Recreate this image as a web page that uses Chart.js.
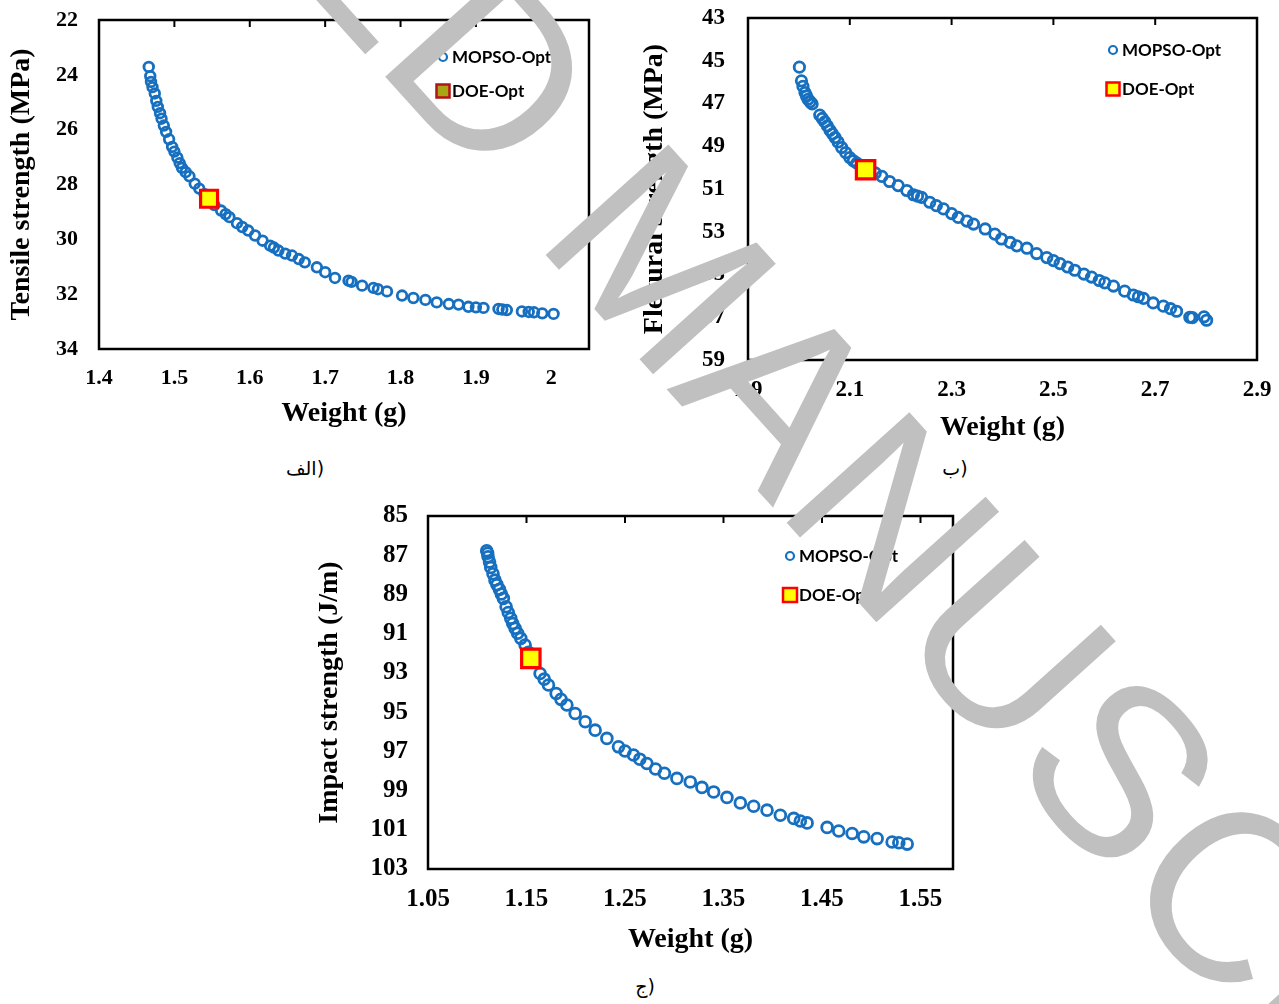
<!DOCTYPE html>
<html>
<head>
<meta charset="utf-8">
<script src="https://cdn.jsdelivr.net/npm/chart.js@4.4.1/dist/chart.umd.min.js"></script>
<style>
html, body { margin: 0; padding: 0; background: #fff; }
body { width: 1279px; height: 1004px; position: relative; overflow: hidden; }
.box { position: absolute; }
.box canvas { display: block; }
.cap { position: absolute; font-family: "DejaVu Sans", sans-serif; font-size: 19px; color: #000; transform: translateX(-50%); white-space: nowrap; }
#mark { position: absolute; left: 0; top: 0; pointer-events: none; }
</style>
</head>
<body>
<div class="box" style="left:0;top:0;width:610px;height:440px"><canvas id="c1"></canvas></div>
<div class="box" style="left:630px;top:0;width:649px;height:450px"><canvas id="c2"></canvas></div>
<div class="box" style="left:300px;top:490px;width:680px;height:475px"><canvas id="c3"></canvas></div>
<div class="cap" dir="ltr" style="left:305px;top:457px">الف)</div>
<div class="cap" dir="ltr" style="left:955px;top:457px">ب)</div>
<div class="cap" dir="ltr" style="left:645px;top:975px">ج)</div>
<canvas id="mark" width="1279" height="1004"></canvas>
<script>
const BLUE = "#176fbf";
const serif = "'Liberation Serif', 'Times New Roman', serif";

// (الف) weight vs tensile strength
const wt1 = [1.466, 1.468, 1.469, 1.471, 1.474, 1.476, 1.478, 1.481, 1.483, 1.486, 1.489, 1.493, 1.497, 1.500, 1.504, 1.507, 1.510, 1.515, 1.520, 1.527, 1.533, 1.540, 1.553, 1.562, 1.568, 1.573, 1.583, 1.590, 1.598, 1.607, 1.617, 1.627, 1.632, 1.638, 1.647, 1.656, 1.665, 1.673, 1.689, 1.700, 1.713, 1.731, 1.735, 1.749, 1.764, 1.770, 1.782, 1.802, 1.817, 1.833, 1.848, 1.864, 1.877, 1.890, 1.900, 1.910, 1.930, 1.935, 1.941, 1.961, 1.970, 1.977, 1.988, 2.003];
const ts1 = [23.71, 24.05, 24.26, 24.45, 24.68, 24.95, 25.17, 25.40, 25.60, 25.85, 26.08, 26.35, 26.63, 26.80, 27.02, 27.22, 27.39, 27.55, 27.70, 27.97, 28.15, 28.35, 28.75, 28.95, 29.08, 29.19, 29.41, 29.55, 29.68, 29.86, 30.05, 30.23, 30.30, 30.41, 30.52, 30.59, 30.72, 30.84, 31.02, 31.20, 31.41, 31.51, 31.55, 31.69, 31.77, 31.82, 31.90, 32.05, 32.14, 32.21, 32.30, 32.36, 32.38, 32.46, 32.48, 32.50, 32.54, 32.56, 32.58, 32.63, 32.65, 32.66, 32.70, 32.72];
const doeWt1 = [1.546];
const doeTs1 = [28.52];
const xTicks1 = [1.4, 1.5, 1.6, 1.7, 1.8, 1.9, 2.0];
const yTicks1 = [22, 24, 26, 28, 30, 32, 34];

// (ب) weight vs flexural strength
const wt2 = [2.001, 2.005, 2.008, 2.012, 2.015, 2.018, 2.022, 2.026, 2.041, 2.046, 2.051, 2.056, 2.061, 2.066, 2.071, 2.077, 2.084, 2.092, 2.100, 2.107, 2.114, 2.150, 2.163, 2.178, 2.195, 2.212, 2.225, 2.233, 2.241, 2.257, 2.270, 2.284, 2.300, 2.313, 2.330, 2.343, 2.366, 2.385, 2.398, 2.415, 2.428, 2.448, 2.467, 2.487, 2.500, 2.513, 2.528, 2.542, 2.560, 2.575, 2.590, 2.601, 2.618, 2.640, 2.657, 2.667, 2.677, 2.696, 2.716, 2.730, 2.742, 2.768, 2.773, 2.796, 2.801];
const fs2 = [45.30, 45.94, 46.20, 46.49, 46.65, 46.80, 46.92, 47.02, 47.54, 47.70, 47.86, 48.05, 48.25, 48.42, 48.59, 48.80, 49.06, 49.30, 49.53, 49.68, 49.79, 50.25, 50.41, 50.65, 50.84, 51.07, 51.27, 51.33, 51.39, 51.62, 51.78, 51.93, 52.15, 52.33, 52.50, 52.64, 52.87, 53.11, 53.34, 53.50, 53.66, 53.77, 54.02, 54.21, 54.35, 54.49, 54.65, 54.80, 54.98, 55.12, 55.28, 55.39, 55.54, 55.78, 55.96, 56.04, 56.12, 56.33, 56.48, 56.60, 56.72, 57.00, 57.02, 56.98, 57.14];
const doeWt2 = [2.131];
const doeFs2 = [50.10];
const xTicks2 = [1.9, 2.1, 2.3, 2.5, 2.7, 2.9];
const yTicks2 = [43, 45, 47, 49, 51, 53, 55, 57, 59];

// (ج) weight vs impact strength
const wt3 = [1.1096, 1.1105, 1.111, 1.1125, 1.1137, 1.116, 1.118, 1.120, 1.1225, 1.1245, 1.1265, 1.1293, 1.1315, 1.134, 1.136, 1.1384, 1.141, 1.1442, 1.1486, 1.152, 1.1638, 1.168, 1.1723, 1.1801, 1.185, 1.191, 1.1994, 1.2096, 1.2197, 1.2316, 1.2434, 1.250, 1.2586, 1.265, 1.2722, 1.281, 1.290, 1.3027, 1.3163, 1.3281, 1.340, 1.3535, 1.3671, 1.3806, 1.3942, 1.4077, 1.4213, 1.428, 1.4349, 1.4552, 1.467, 1.4806, 1.4924, 1.506, 1.5212, 1.528, 1.5365];
const is3 = [86.77, 86.90, 87.08, 87.35, 87.62, 87.95, 88.27, 88.50, 88.74, 88.98, 89.20, 89.63, 89.92, 90.22, 90.48, 90.73, 90.98, 91.24, 91.58, 91.95, 93.03, 93.32, 93.62, 94.05, 94.35, 94.64, 95.07, 95.49, 95.92, 96.34, 96.77, 96.98, 97.19, 97.40, 97.62, 97.90, 98.12, 98.38, 98.56, 98.84, 99.07, 99.35, 99.63, 99.80, 100.00, 100.26, 100.42, 100.55, 100.65, 100.88, 101.06, 101.19, 101.36, 101.45, 101.62, 101.66, 101.73];
const doeWt3 = [1.1544];
const doeIs3 = [92.26];
const xTicks3 = [1.05, 1.15, 1.25, 1.35, 1.45, 1.55];
const yTicks3 = [85, 87, 89, 91, 93, 95, 97, 99, 101, 103];

function pts(xs, ys) {
    return xs.map((x, i) => ({ x: x, y: ys[i] }));
}

// plot frame, inner tick marks on the top edge and the legend inside the plot
const frame = {
    id: "frame",
    afterDraw(chart, args, opts) {
        const ctx = chart.ctx;
        const a = chart.chartArea;
        const xs = chart.scales.x;
        ctx.save();
        ctx.strokeStyle = "#000";
        ctx.lineWidth = 2;
        xs.ticks.forEach(t => {
            const px = xs.getPixelForValue(t.value);
            if (px - a.left < 3 || a.right - px < 3) return;
            ctx.beginPath();
            ctx.moveTo(px, a.top);
            ctx.lineTo(px, a.top + 7);
            ctx.stroke();
        });
        ctx.lineWidth = 2.5;
        ctx.strokeRect(a.left, a.top, a.right - a.left, a.bottom - a.top);

        const x = a.right + opts.dx;
        chart.data.datasets.forEach((ds, i) => {
            const y = a.top + opts.dy[i];
            if (ds.pointStyle === "rect") {
                const s = opts.box;
                ctx.fillStyle = opts.fill || ds.pointBackgroundColor;
                ctx.strokeStyle = opts.edge || ds.pointBorderColor;
                ctx.lineWidth = 2.5;
                ctx.fillRect(x - s / 2, y - s / 2, s, s);
                ctx.strokeRect(x - s / 2, y - s / 2, s, s);
            } else {
                ctx.beginPath();
                ctx.arc(x, y, 4, 0, Math.PI * 2);
                ctx.strokeStyle = ds.pointBorderColor;
                ctx.lineWidth = 2.2;
                ctx.stroke();
            }
            ctx.fillStyle = "#000";
            ctx.font = "bold 17px Lato, 'Open Sans', sans-serif";
            ctx.textBaseline = "middle";
            ctx.textAlign = "left";
            ctx.fillText(ds.label, x + 9, y + 1);
        });
        ctx.restore();
    }
};

function makeChart(id, c) {
    return new Chart(document.getElementById(id), {
        type: "scatter",
        data: {
            datasets: [{
                label: "MOPSO-Opt",
                data: pts(c.wx, c.wy),
                pointStyle: "circle",
                pointRadius: c.r,
                pointBorderWidth: 2.8,
                pointBorderColor: BLUE,
                pointBackgroundColor: "rgba(0,0,0,0)",
                order: 1
            }, {
                label: "DOE-Opt",
                data: pts(c.dx, c.dy),
                pointStyle: "rect",
                pointRadius: c.R,
                pointBorderWidth: 3.2,
                pointBorderColor: "#ff0000",
                pointBackgroundColor: "#ffff00",
                order: 0
            }]
        },
        options: {
            responsive: true,
            maintainAspectRatio: false,
            animation: false,
            devicePixelRatio: 1,
            layout: { autoPadding: false, padding: { top: c.pad[0], right: c.pad[1], bottom: 0, left: 0 } },
            plugins: {
                legend: { display: false },
                tooltip: { enabled: false },
                frame: c.legend
            },
            scales: {
                x: {
                    type: "linear",
                    min: c.xmin,
                    max: c.xmax,
                    afterBuildTicks: s => { s.ticks = c.xt.map(v => ({ value: v })); },
                    afterFit: s => { s.height = c.xh; s.paddingLeft = 0; s.paddingRight = 0; },
                    grid: { display: false, drawTicks: false },
                    border: { display: false },
                    ticks: {
                        autoSkip: false,
                        maxRotation: 0,
                        padding: c.xpad,
                        color: "#000",
                        font: { family: serif, size: c.fs, weight: "bold" },
                        callback: v => String(Math.round(v * 100) / 100)
                    },
                    title: {
                        display: true,
                        text: "Weight (g)",
                        color: "#000",
                        font: { family: serif, size: 28, weight: "bold", lineHeight: 1.2 },
                        padding: { top: 0, bottom: c.xtp }
                    }
                },
                y: {
                    type: "linear",
                    reverse: true,
                    min: c.yt[0],
                    max: c.yt[c.yt.length - 1],
                    afterBuildTicks: s => { s.ticks = c.yt.map(v => ({ value: v })); },
                    afterFit: s => { s.width = c.yw; s.paddingTop = 0; s.paddingBottom = 0; },
                    grid: { display: false, drawTicks: false },
                    border: { display: false },
                    ticks: {
                        autoSkip: false,
                        padding: c.ypad,
                        color: "#000",
                        font: { family: serif, size: c.fs, weight: "bold" }
                    },
                    title: {
                        display: true,
                        text: c.ytitle,
                        color: "#000",
                        font: { family: serif, size: 28, weight: "bold", lineHeight: 1.2 },
                        padding: { top: c.ytp, bottom: 0 }
                    }
                }
            }
        },
        plugins: [frame]
    });
}

makeChart("c1", {
    wx: wt1, wy: ts1, dx: doeWt1, dy: doeTs1,
    xt: xTicks1, yt: yTicks1, xmin: 1.4, xmax: 2.05,
    ytitle: "Tensile strength (MPa)",
    r: 4.8, R: 12, fs: 22,
    pad: [20, 21], yw: 99, xh: 91, xpad: 16, ypad: 21, xtp: 9.2, ytp: 5.2,
    legend: { dx: -146, dy: [37, 71], box: 13, fill: "#a9a514", edge: "#b3141a" }
});

makeChart("c2", {
    wx: wt2, wy: fs2, dx: doeWt2, dy: doeFs2,
    xt: xTicks2, yt: yTicks2, xmin: 1.9, xmax: 2.9,
    ytitle: "Flexural strength (MPa)",
    r: 5.2, R: 13, fs: 23,
    pad: [18, 22], yw: 118, xh: 90, xpad: 16, ypad: 23, xtp: 5.2, ytp: 8.2,
    legend: { dx: -144, dy: [32, 71], box: 13 }
});

makeChart("c3", {
    wx: wt3, wy: is3, dx: doeWt3, dy: doeIs3,
    xt: xTicks3, yt: yTicks3, xmin: 1.05, xmax: 1.583,
    ytitle: "Impact strength (J/m)",
    r: 5.4, R: 13, fs: 25,
    pad: [26, 27], yw: 128, xh: 96, xpad: 16, ypad: 20, xtp: 8.2, ytp: 13.2,
    legend: { dx: -163, dy: [40, 79], box: 14 }
});

// watermark over the whole figure
const WM_TEXT = "ACCEPTED MANUSCRIPT";
const WM_SIZE = 240;
const wm = document.getElementById("mark").getContext("2d");
wm.font = WM_SIZE + "px 'Liberation Sans', Arial, sans-serif";
const lead = wm.measureText("ACCEPTE").width;
wm.save();
wm.translate(372, 62);
wm.rotate(48 * Math.PI / 180);
wm.fillStyle = "#c0c0c0";
wm.fillText(WM_TEXT, -lead, 0);
wm.restore();
</script>
</body>
</html>
